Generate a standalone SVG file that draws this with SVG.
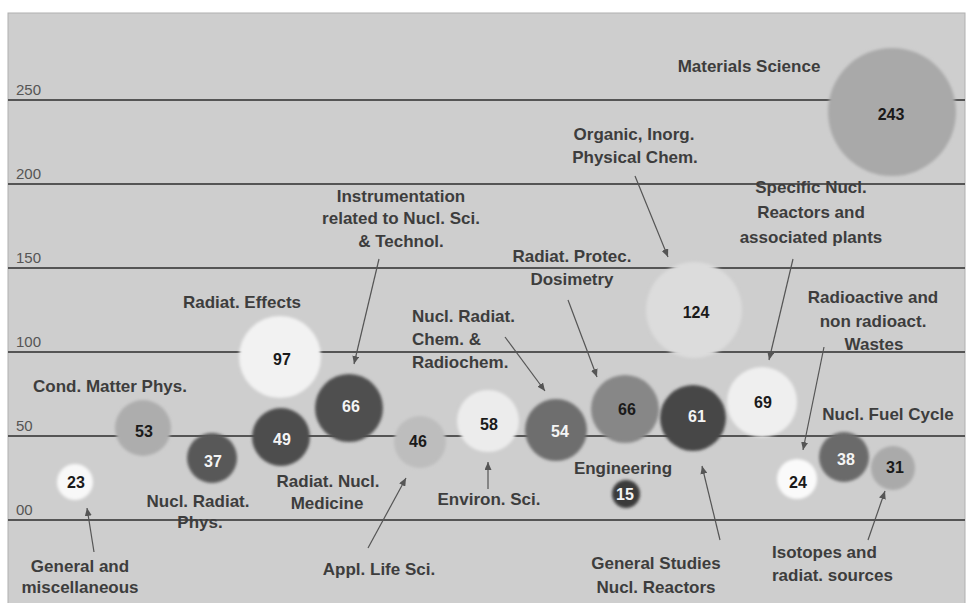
<svg xmlns="http://www.w3.org/2000/svg" width="968" height="603" viewBox="0 0 968 603">
<defs>
<style>
.grid{stroke:#555;stroke-width:2}
.ax{font-family:"Liberation Sans",Arial,sans-serif;font-size:15px;fill:#555}
.lbl{font-family:"Liberation Sans",Arial,sans-serif;font-size:17px;font-weight:bold;fill:#3d3d3d;text-anchor:middle}
.lbl.l{text-anchor:start}
.num{font-family:"Liberation Sans",Arial,sans-serif;font-size:16px;font-weight:bold;text-anchor:middle;fill:#1a1a1a}
.num.w{fill:#f4f4f4}
.bub{filter:url(#soft)}
.conn line{stroke:#555;stroke-width:1.2;marker-end:url(#ah)}
</style>
<filter id="soft" x="-20%" y="-20%" width="140%" height="140%"><feGaussianBlur stdDeviation="1.6"/></filter>
<marker id="ah" markerUnits="userSpaceOnUse" markerWidth="8" markerHeight="7" refX="8" refY="3.5" orient="auto"><path d="M0,0 L8,3.5 L0,7 z" fill="#555"/></marker>
</defs>
<rect x="0" y="0" width="968" height="603" fill="#ffffff"/>
<rect x="8" y="13" width="957" height="595" fill="#cecece" stroke="#b0b0b0" stroke-width="1"/>
<g id="axis">
<line class="grid" x1="8" y1="100" x2="965" y2="100"/>
<line class="grid" x1="8" y1="184" x2="965" y2="184"/>
<line class="grid" x1="8" y1="268" x2="965" y2="268"/>
<line class="grid" x1="8" y1="352" x2="965" y2="352"/>
<line class="grid" x1="8" y1="436" x2="965" y2="436"/>
<line class="grid" x1="8" y1="520" x2="965" y2="520"/>
<text class="ax" x="16" y="95">250</text>
<text class="ax" x="16" y="179">200</text>
<text class="ax" x="16" y="263">150</text>
<text class="ax" x="16" y="347">100</text>
<text class="ax" x="16" y="431">50</text>
<text class="ax" x="16" y="515">00</text>
</g>
<g id="n243"><circle class="bub" cx="892" cy="112" r="64" fill="#a9a9a9"/><text class="num" x="891" y="120">243</text><text class="lbl" x="749" y="72">Materials Science</text></g>
<g id="n124"><circle class="bub" cx="694" cy="310" r="48" fill="#dcdcdc"/><text class="num" x="696" y="318">124</text><text class="lbl" x="634" y="140">Organic, Inorg.</text><text class="lbl" x="635" y="163">Physical Chem.</text></g>
<g id="n97"><circle class="bub" cx="280" cy="357" r="41" fill="#f2f2f2"/><text class="num" x="282" y="365">97</text><text class="lbl" x="242" y="308">Radiat. Effects</text></g>
<g id="n66a"><circle class="bub" cx="349" cy="408" r="34" fill="#4f4f4f"/><text class="num w" x="351" y="412">66</text><text class="lbl" x="401" y="202">Instrumentation</text><text class="lbl" x="401" y="224">related to Nucl. Sci.</text><text class="lbl" x="401" y="247">&amp; Technol.</text></g>
<g id="n53"><circle class="bub" cx="143" cy="428" r="28" fill="#adadad"/><text class="num" x="144" y="437">53</text><text class="lbl" x="110" y="392">Cond. Matter Phys.</text></g>
<g id="n49"><circle class="bub" cx="281" cy="437" r="29" fill="#4e4e4e"/><text class="num w" x="282" y="445">49</text><text class="lbl" x="328" y="487">Radiat. Nucl.</text><text class="lbl" x="327" y="509">Medicine</text></g>
<g id="n37"><circle class="bub" cx="212" cy="458" r="25" fill="#585858"/><text class="num w" x="213" y="467">37</text><text class="lbl" x="198" y="507">Nucl. Radiat.</text><text class="lbl" x="200" y="528">Phys.</text></g>
<g id="n23"><circle class="bub" cx="75" cy="482" r="18" fill="#f8f8f8"/><text class="num" x="76" y="488">23</text><text class="lbl" x="80" y="572">General and</text><text class="lbl" x="80" y="593">miscellaneous</text></g>
<g id="n46"><circle class="bub" cx="420" cy="442" r="26" fill="#bdbdbd"/><text class="num" x="418" y="447">46</text><text class="lbl" x="379" y="575">Appl. Life Sci.</text></g>
<g id="n58"><circle class="bub" cx="488" cy="421" r="31" fill="#ececec"/><text class="num" x="489" y="430">58</text><text class="lbl" x="489" y="505">Environ. Sci.</text></g>
<g id="n54"><circle class="bub" cx="556" cy="430" r="31" fill="#6e6e6e"/><text class="num w" x="560" y="437">54</text><text class="lbl l" x="412" y="322">Nucl. Radiat.</text><text class="lbl l" x="412" y="345">Chem. &amp;</text><text class="lbl l" x="412" y="368">Radiochem.</text></g>
<g id="n66b"><circle class="bub" cx="625" cy="409" r="34" fill="#878787"/><text class="num" x="627" y="415">66</text><text class="lbl" x="572" y="262">Radiat. Protec.</text><text class="lbl" x="572" y="285">Dosimetry</text></g>
<g id="n61"><circle class="bub" cx="693" cy="418" r="33" fill="#474747"/><text class="num w" x="697" y="422">61</text><text class="lbl" x="656" y="569">General Studies</text><text class="lbl" x="656" y="593">Nucl. Reactors</text></g>
<g id="n15"><circle class="bub" cx="626" cy="494" r="14" fill="#3a3a3a"/><text class="num w" x="625" y="500">15</text><text class="lbl" x="623" y="474">Engineering</text></g>
<g id="n69"><circle class="bub" cx="762" cy="402" r="35" fill="#efefef"/><text class="num" x="763" y="408">69</text><text class="lbl" x="811" y="193">Specific Nucl.</text><text class="lbl" x="811" y="218">Reactors and</text><text class="lbl" x="811" y="243">associated plants</text></g>
<g id="n24"><circle class="bub" cx="797" cy="479" r="20" fill="#fafafa"/><text class="num" x="798" y="488">24</text><text class="lbl" x="873" y="303">Radioactive and</text><text class="lbl" x="873" y="327">non radioact.</text><text class="lbl" x="874" y="350">Wastes</text></g>
<g id="n38"><circle class="bub" cx="844" cy="457" r="25" fill="#6a6a6a"/><text class="num w" x="846" y="465">38</text><text class="lbl" x="888" y="420">Nucl. Fuel Cycle</text></g>
<g id="n31"><circle class="bub" cx="893" cy="468" r="22" fill="#aaaaaa"/><text class="num" x="895" y="473">31</text><text class="lbl l" x="772" y="558">Isotopes and</text><text class="lbl l" x="772" y="581">radiat. sources</text></g>
<g id="connectors" class="conn">
<line x1="94" y1="552" x2="87" y2="508"/>
<line x1="379" y1="259" x2="354" y2="364"/>
<line x1="368" y1="548" x2="406" y2="478"/>
<line x1="488" y1="489" x2="488" y2="462"/>
<line x1="505" y1="337" x2="545" y2="391"/>
<line x1="568" y1="300" x2="597" y2="377"/>
<line x1="635" y1="176" x2="668" y2="257"/>
<line x1="793" y1="259" x2="769" y2="360"/>
<line x1="824" y1="347" x2="803" y2="450"/>
<line x1="720" y1="540" x2="702" y2="466"/>
<line x1="868" y1="540" x2="885" y2="491"/>
</g>
</svg>
